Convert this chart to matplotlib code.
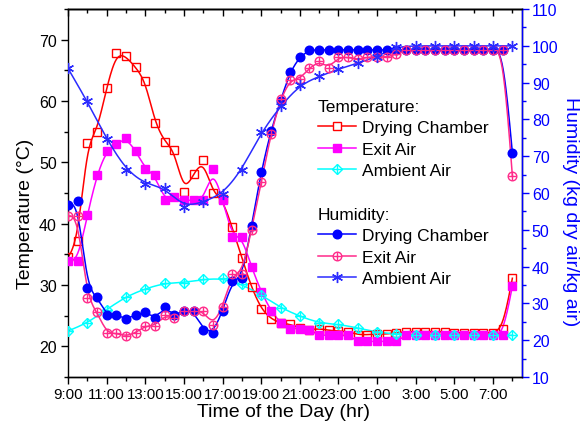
import numpy as np
import matplotlib
matplotlib.use("Agg")
import matplotlib.pyplot as plt
from matplotlib.lines import Line2D
from matplotlib.ticker import MultipleLocator

plt.rcParams['font.family'] = ['Liberation Sans', 'DejaVu Sans']

# half-hourly readings, 9:00 -> 8:00 next day
times = ['9:00', '9:30', '10:00', '10:30', '11:00', '11:30', '12:00', '12:30',
         '13:00', '13:30', '14:00', '14:30', '15:00', '15:30', '16:00', '16:30',
         '17:00', '17:30', '18:00', '18:30', '19:00', '19:30', '20:00', '20:30',
         '21:00', '21:30', '22:00', '22:30', '23:00', '23:30', '0:00', '0:30',
         '1:00', '1:30', '2:00', '2:30', '3:00', '3:30', '4:00', '4:30',
         '5:00', '5:30', '6:00', '6:30', '7:00', '7:30', '8:00']
# hourly readings for ambient air
times_amb = ['9:00', '10:00', '11:00', '12:00', '13:00', '14:00', '15:00', '16:00',
             '17:00', '18:00', '19:00', '20:00', '21:00', '22:00', '23:00', '0:00',
             '1:00', '2:00', '3:00', '4:00', '5:00', '6:00', '7:00', '8:00']

temp_chamber = [34.5, 37.2, 53.2, 55.0, 62.2, 67.8, 67.3, 65.5, 63.3, 56.5, 53.4, 52.0,
                45.1, 48.1, 50.4, 45.0, 44.0, 39.4, 34.4, 29.6, 26.1, 24.5, 23.8, 23.6,
                23.0, 22.7, 22.9, 22.6, 22.5, 22.4, 21.9, 21.9, 22.0, 22.0, 22.2, 22.4,
                22.4, 22.4, 22.4, 22.4, 22.2, 22.2, 22.2, 22.2, 22.2, 22.9, 31.1]
temp_exit = [33.9, 33.9, 41.4, 48.0, 51.9, 53.0, 54.0, 51.9, 49.0, 47.9, 43.8, 44.3,
             43.8, 43.8, 43.8, 49.0, 43.9, 37.9, 37.9, 32.9, 28.9, 25.8, 23.8, 22.9,
             22.9, 22.7, 21.8, 21.8, 21.8, 21.8, 20.8, 20.8, 20.8, 20.8, 20.8, 21.8,
             21.8, 21.8, 21.8, 21.8, 21.8, 21.8, 21.8, 21.8, 21.8, 21.8, 29.8]
temp_ambient = [22.5, 23.8, 26.0, 28.1, 29.4, 30.3, 30.4, 30.9, 31.1, 30.1, 28.4, 26.3,
                24.9, 23.8, 23.6, 23.0, 22.3, 22.0, 21.8, 21.8, 21.8, 21.8, 21.8, 21.8]

hum_chamber = [56.7, 57.7, 34.2, 31.8, 26.8, 26.8, 25.8, 26.8, 27.7, 25.9, 28.9, 26.8,
               27.9, 27.9, 22.9, 21.9, 27.9, 36.0, 36.9, 51.1, 65.8, 76.9, 85.1, 93.0,
               97.0, 98.9, 98.9, 98.9, 98.9, 98.9, 98.9, 98.9, 98.9, 98.9, 98.9, 98.9,
               98.9, 98.9, 98.9, 98.9, 98.9, 98.9, 98.9, 98.9, 98.9, 98.9, 71.0]
hum_exit = [53.8, 53.8, 31.4, 27.7, 21.9, 21.9, 21.1, 22.0, 23.9, 23.9, 26.8, 25.9,
            27.9, 27.9, 27.9, 24.1, 28.9, 38.0, 38.0, 50.0, 62.9, 76.0, 85.5, 90.8,
            91.0, 94.0, 95.8, 94.0, 96.9, 96.9, 96.3, 96.9, 97.1, 96.9, 97.8, 98.9,
            98.9, 98.9, 98.9, 98.9, 98.9, 98.9, 98.9, 98.9, 98.9, 98.9, 64.7]
hum_ambient = [93.9, 84.9, 74.7, 66.3, 62.5, 61.5, 56.1, 57.6, 59.7, 66.3, 76.5, 83.6,
               89.4, 91.7, 93.7, 95.3, 97.1, 99.8, 100, 100, 100, 100, 100, 100]

xtick_labels = ['9:00', '11:00', '13:00', '15:00', '17:00', '19:00',
                '21:00', '23:00', '1:00', '3:00', '5:00', '7:00']


def to_hours(labels):
    # hours elapsed since 9:00
    out = []
    for s in labels:
        hh, mm = s.split(':')
        v = int(hh) + int(mm) / 60.0 - 9
        if v < 0:
            v += 24
        out.append(v)
    return np.array(out)


def bspline(x, y, n=16):
    # uniform cubic B-spline through end points (Origin style smoothing)
    P = np.column_stack([x, y]).astype(float)
    P = np.vstack([P[0], P[0], P, P[-1], P[-1]])
    t = np.linspace(0, 1, n)
    b0 = (1 - t) ** 3 / 6
    b1 = (3 * t ** 3 - 6 * t ** 2 + 4) / 6
    b2 = (-3 * t ** 3 + 3 * t ** 2 + 3 * t + 1) / 6
    b3 = t ** 3 / 6
    segs = []
    for i in range(len(P) - 3):
        segs.append(b0[:, None] * P[i] + b1[:, None] * P[i + 1]
                    + b2[:, None] * P[i + 2] + b3[:, None] * P[i + 3])
    c = np.vstack(segs)
    return c[:, 0], c[:, 1]


x = to_hours(times)
xa = to_hours(times_amb)

RED = '#FF0000'
MAG = '#FF00FF'
CYAN = '#00FFFF'
BLUE = '#0000FF'
PINK = '#FF2A8A'
BLUE2 = '#2B2BFF'
lw = 1.1

fig = plt.figure(figsize=(5.81, 4.39), dpi=100)
ax = fig.add_axes([0.117, 0.139, 0.7815, 0.838])
ax2 = ax.twinx()


def draw(a, xs, ys, color, **mk):
    sx, sy = bspline(xs, ys)
    a.plot(sx, sy, color=color, lw=lw, zorder=2)
    a.plot(xs, ys, ls='none', zorder=3, **mk)


# temperature (left axis)
draw(ax, x, temp_chamber, RED, marker='s', ms=5.5, mfc='none', mec=RED, mew=1)
draw(ax, x, temp_exit, MAG, marker='s', ms=5.5, mfc=MAG, mec=MAG)
draw(ax, xa, temp_ambient, CYAN, marker='D', ms=5.6, mfc='none', mec=CYAN, mew=1)
ax.plot(xa, temp_ambient, ls='none', marker='+', ms=7.9, mec=CYAN, mew=1, zorder=3)

# humidity (right axis)
draw(ax2, x, hum_chamber, BLUE, marker='o', ms=6.2, mfc=BLUE, mec=BLUE)
draw(ax2, x, hum_exit, PINK, marker='o', ms=6.2, mfc='none', mec=PINK, mew=1)
ax2.plot(x, hum_exit, ls='none', marker='+', ms=6.2, mec=PINK, mew=1, zorder=3)
draw(ax2, xa, hum_ambient, BLUE2, marker=(6, 2, 0), ms=8, mec=BLUE2, mew=1)

# axes setup
ax.set_xlim(0, 23.5)
ax.set_ylim(15, 75)
ax2.set_ylim(10, 110)
ax.set_xticks(np.arange(0, 23, 2))
ax.set_xticklabels(xtick_labels)
ax.xaxis.set_minor_locator(MultipleLocator(1))
ax.yaxis.set_major_locator(MultipleLocator(10))
ax.yaxis.set_minor_locator(MultipleLocator(5))
ax2.yaxis.set_major_locator(MultipleLocator(10))
ax2.yaxis.set_minor_locator(MultipleLocator(5))

ax.tick_params(axis='x', which='major', direction='out', length=5, width=1,
               labelsize=10.8, pad=2)
ax.tick_params(axis='y', which='major', direction='out', length=5, width=1,
               labelsize=11.5, pad=3)
ax.tick_params(axis='both', which='minor', direction='out', length=3, width=1)
ax2.tick_params(axis='y', which='major', direction='out', length=5, width=1,
                labelsize=11.5, colors=BLUE, pad=2)
ax2.tick_params(axis='y', which='minor', direction='out', length=3, width=1,
                colors=BLUE)

top = ax.secondary_xaxis('top')
top.set_xticks(np.arange(0, 23, 2))
top.xaxis.set_minor_locator(MultipleLocator(1))
top.tick_params(which='major', direction='in', length=5, width=1, labeltop=False)
top.tick_params(which='minor', direction='in', length=3, width=1)

for a in (ax, ax2):
    for s in a.spines.values():
        s.set_linewidth(1)
ax2.spines['right'].set_color(BLUE)
ax2.spines['left'].set_visible(False)
top.spines['top'].set_linewidth(1)

ax.set_xlabel('Time of the Day (hr)', fontsize=14)
ax.set_ylabel('Temperature (\u00b0C)', fontsize=14)
ax2.set_ylabel('Humidity (kg dry air/kg air)', fontsize=14, color=BLUE,
               rotation=270)
ax.xaxis.set_label_coords(0.4736, -0.07)
ax.yaxis.set_label_coords(-0.075, 0.445)
ax2.yaxis.set_label_coords(1.1256, 0.451)

# legends
def h(color, **kw):
    return Line2D([], [], color=color, lw=lw, **kw)

temp_handles = [
    h(RED, marker='s', ms=5.5, mfc='white', mec=RED),
    h(MAG, marker='s', ms=5.5, mfc=MAG, mec=MAG),
    (h(CYAN, marker='D', ms=5.6, mfc='white', mec=CYAN),
     Line2D([], [], ls='none', marker='+', ms=7.9, mec=CYAN, mew=1)),
]
hum_handles = [
    h(BLUE, marker='o', ms=6.2, mfc=BLUE, mec=BLUE),
    (h(PINK, marker='o', ms=6.2, mfc='white', mec=PINK),
     Line2D([], [], ls='none', marker='+', ms=6.2, mec=PINK, mew=1)),
    h(BLUE2, marker=(6, 2, 0), ms=8, mec=BLUE2),
]
labels = ['Drying Chamber', 'Exit Air', 'Ambient Air']
leg_kw = dict(loc='upper left', frameon=False, fontsize=12.5, title_fontsize=12.5,
              alignment='left', borderpad=0, borderaxespad=0, handlelength=2.2,
              handletextpad=0.35, labelspacing=0.36, markerscale=1)
leg1 = fig.legend(temp_handles, labels, title='Temperature:',
                  bbox_to_anchor=(318 / 581, 1 - 100 / 439), **leg_kw)
leg2 = fig.legend(hum_handles, labels, title='Humidity:',
                  bbox_to_anchor=(318 / 581, 1 - 208 / 439), **leg_kw)

fig.savefig('out.png', dpi=100)
